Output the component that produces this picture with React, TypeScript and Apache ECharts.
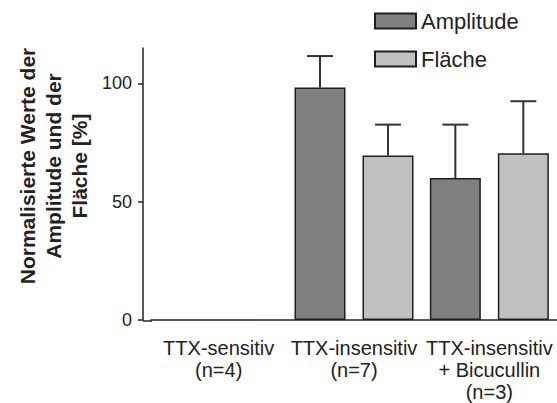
import React, { useEffect, useRef } from "react";
import * as echarts from "echarts";

const categories = ["TTX-sensitiv\n(n=4)", "TTX-insensitiv\n(n=7)", "TTX-insensitiv\n+ Bicucullin\n(n=3)"];
const amplitude: (number | null)[] = [null, 98.3, 60.0];
const amplitudeErr: (number | null)[] = [null, 13.3, 22.6];
const flaeche: (number | null)[] = [null, 69.5, 70.5];
const flaecheErr: (number | null)[] = [null, 13.1, 22.0];
const yTicks = [0, 50, 100];
const yMax = 115;
const yTitle = "Normalisierte Werte der\nAmplitude und der\nFläche [%]";

const FONT = "'Liberation Sans', Arial, Helvetica, sans-serif";
const BAR_W = 51;
const BAR_GAP = 17;
const OFFSET = (BAR_W + BAR_GAP) / 2;

function errData(vals: (number | null)[], errs: (number | null)[]) {
  const out: number[][] = [];
  vals.forEach((v, i) => {
    const e = errs[i];
    if (v != null && e != null) out.push([i, v, e]);
  });
  return out;
}

function errSeries(data: number[][], dir: number) {
  return {
    type: "custom",
    z: 5,
    silent: true,
    encode: { x: 0, y: 1 },
    data,
    renderItem: (_params: any, api: any) => {
      const idx = api.value(0);
      const v = api.value(1);
      const e = api.value(2);
      const base = api.coord([idx, v]);
      const top = api.coord([idx, v + e]);
      const x = base[0] + dir * OFFSET;
      const style = { stroke: "#333333", lineWidth: 2 };
      return {
        type: "group",
        children: [
          { type: "line", shape: { x1: x, y1: base[1], x2: x, y2: top[1] }, style },
          { type: "line", shape: { x1: x - 13, y1: top[1], x2: x + 13, y2: top[1] }, style },
        ],
      };
    },
  };
}

export default function App() {
  const ref = useRef<HTMLDivElement>(null);
  useEffect(() => {
    const chart = echarts.init(ref.current!, null, { renderer: "svg" });
    chart.setOption({
      animation: false,
      backgroundColor: "#ffffff",
      textStyle: { fontFamily: FONT },
      grid: { left: 151, right: 0, top: 48, bottom: 82 },
      legend: {
        data: ["Amplitude", "Fläche"],
        orient: "vertical",
        left: 374,
        top: 10,
        padding: 0,
        icon: "rect",
        itemWidth: 41,
        itemHeight: 15,
        itemGap: 16,
        textStyle: { fontSize: 22, lineHeight: 22, color: "#222222", fontFamily: FONT },
      },
      xAxis: {
        type: "category",
        data: categories,
        axisLine: { lineStyle: { color: "#222222", width: 1.5 } },
        axisTick: { show: false },
        axisLabel: {
          color: "#222222",
          fontSize: 20,
          lineHeight: 22,
          margin: 17,
          fontFamily: FONT,
          interval: 0,
        },
      },
      yAxis: {
        type: "value",
        min: 0,
        max: yMax,
        interval: 50,
        offset: 8,
        splitLine: { show: false },
        axisLine: { show: true, lineStyle: { color: "#222222", width: 1.5 } },
        axisTick: { show: true, length: 5, customValues: yTicks, lineStyle: { color: "#222222", width: 1.5 } },
        axisLabel: { customValues: yTicks, color: "#222222", fontSize: 18, margin: 11, fontFamily: FONT },
      },
      graphic: [
        {
          type: "line",
          shape: { x1: 143, y1: 321, x2: 152, y2: 321 },
          style: { stroke: "#222222", lineWidth: 1.5 },
        },
        {
          type: "text",
          x: 53,
          y: 166,
          rotation: Math.PI / 2,
          style: {
            text: yTitle,
            font: `bold 21px ${FONT}`,
            lineHeight: 26,
            fill: "#222222",
            align: "center",
            verticalAlign: "middle",
          },
        },
      ],
      series: [
        {
          name: "Amplitude",
          type: "bar",
          data: amplitude.map((v) => (v == null ? "-" : v)),
          barWidth: BAR_W,
          barGap: `${(BAR_GAP / BAR_W) * 100}%`,
          itemStyle: { color: "#808080", borderColor: "#1e1e1e", borderWidth: 1.5 },
        },
        {
          name: "Fläche",
          type: "bar",
          data: flaeche.map((v) => (v == null ? "-" : v)),
          barWidth: BAR_W,
          barGap: `${(BAR_GAP / BAR_W) * 100}%`,
          itemStyle: { color: "#c0c0c0", borderColor: "#1e1e1e", borderWidth: 1.5 },
        },
        errSeries(errData(amplitude, amplitudeErr), -1),
        errSeries(errData(flaeche, flaecheErr), 1),
      ],
    });
    return () => chart.dispose();
  }, []);
  return <div ref={ref} style={{ position: "fixed", left: 0, top: 0, width: 557, height: 403 }} />;
}
